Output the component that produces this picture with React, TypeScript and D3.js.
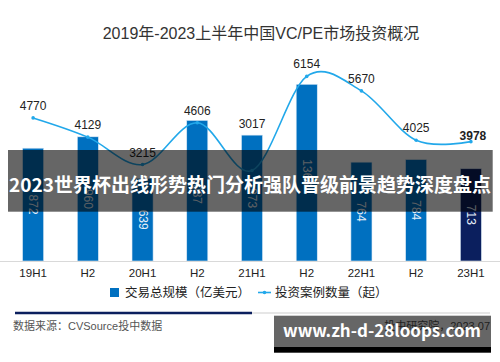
import React from "react";
import * as d3 from "d3";

const categories = ["19H1", "H2", "20H1", "H2", "21H1", "H2", "22H1", "H2", "23H1"];
const dealValue = [872, 960, 639, 1087, 973, 1366, 764, 784, 713];
const dealCount = [4770, 4129, 3215, 4606, 3017, 6154, 5670, 4025, 3978];
const title = "2019年-2023上半年中国VC/PE市场投资概况";
const legendBar = "交易总规模（亿美元）";
const legendLine = "投资案例数量（起）";
const sourceText = "数据来源：CVSource投中数据";
const rightNote = "投中研究院，2023.07";
const bannerText = "2023世界杯出线形势热门分析强队晋级前景趋势深度盘点";
const watermark = "www.zh-d-28loops.com";

const W = 500;
const H = 362;
const FONT = "'Liberation Sans', Arial, 'Noto Sans CJK SC', sans-serif";

export default function App() {
  const x = d3.scaleBand<string>().domain(categories.map((_, i) => String(i))).range([5.6, 498.4]).paddingInner(0.615).paddingOuter(0.31);
  const base = 261;
  const top = 54;
  const yBar = d3.scaleLinear().domain([0, 1600]).range([base, top]);
  const yLine = d3.scaleLinear().domain([0, 6900]).range([base, top]);
  const cx = (i: number) => (x(String(i)) as number) + x.bandwidth() / 2;
  const line = d3
    .line<number>()
    .x((_, i) => cx(i))
    .y((d) => yLine(d))
    .curve(d3.curveCardinal.tension(0));

  const labelY = (v: number, i: number) => {
    const last = i === dealCount.length - 1;
    let y = yLine(v) - (last ? 2 : 8);
    const barTop = yBar(dealValue[i]);
    if (y > barTop) y = barTop - 7;
    return y;
  };

  return (
    <svg width={W} height={H} style={{ position: "absolute", left: 0, top: 0, background: "#fff" }} fontFamily={FONT}>
      <rect width={W} height={H} fill="#fff" />
      <text x={261} y={39} textAnchor="middle" fontSize={16} fill="#333">{title}</text>

      {dealValue.map((v, i) => (
        <rect key={"b" + i} x={x(String(i))} y={yBar(v)} width={x.bandwidth()} height={base - yBar(v)}
          fill={i === dealValue.length - 1 ? "#0b1f5e" : "#0070c0"} stroke="#dbe9f6" strokeWidth={0.6} />
      ))}
      {dealValue.map((v, i) => (
        <text key={"bl" + i} transform={`translate(${cx(i)},${(yBar(v) + base) / 2}) rotate(90)`}
          textAnchor="middle" dominantBaseline="central" fontSize={12} fill="#e4eef8">{v}</text>
      ))}

      <line x1={0} x2={W} y1={base + 0.5} y2={base + 0.5} stroke="#d9d9d9" strokeWidth={1} />

      <path d={line(dealCount) || ""} fill="none" stroke="#22a8ea" strokeWidth={1.6} />
      {dealCount.map((v, i) => (
        <circle key={"p" + i} cx={cx(i)} cy={yLine(v)} r={1.8} fill="#22a8ea" />
      ))}
      {dealCount.map((v, i) => (
        <text key={"pl" + i} x={cx(i) + (i === dealCount.length - 1 ? 2 : 0)} y={labelY(v, i)} textAnchor="middle"
          fontSize={12} fill="#222" fontWeight={i === dealCount.length - 1 ? 700 : 400}>{v}</text>
      ))}

      {categories.map((c, i) => (
        <text key={"x" + i} x={cx(i)} y={277} textAnchor="middle" fontSize={11.5} fill="#222">{c}</text>
      ))}

      <rect x={110} y={288} width={9} height={9} fill="#0070c0" />
      <text x={125} y={297} fontSize={12.5} fill="#222">{legendBar}</text>
      <line x1={258} x2={271} y1={292.5} y2={292.5} stroke="#22a8ea" strokeWidth={1.6} />
      <circle cx={264.5} cy={292.5} r={1.8} fill="#22a8ea" />
      <text x={275} y={297} fontSize={12.5} fill="#222">{legendLine}</text>

      <line x1={252} x2={490} y1={313} y2={313} stroke="#e6e6e6" strokeWidth={2} />
      <line x1={15} x2={252} y1={313} y2={313} stroke="#0b1f5e" strokeWidth={2.5} />
      <text x={13} y={330} fontSize={11} fill="#555">{sourceText}</text>
      <text x={490} y={330} textAnchor="end" fontSize={11} fill="#555">{rightNote}</text>

      <rect x={8} y={150} width={484.7} height={61.7} fill="rgba(0,0,0,0.6)" />
      <text x={250} y={192} textAnchor="middle" fontSize={19} fontWeight={700} fill="#fff"
        fontFamily="'Noto Sans CJK SC', 'Noto Sans', sans-serif">{bannerText}</text>

      <rect x={274} y={315.7} width={217} height={31} fill="rgba(0,0,0,0.6)" />
      <rect x={274} y={346.7} width={217} height={6} fill="#000" />
      <text x={382} y={337} textAnchor="middle" fontSize={17} fontWeight={700} fill="#fff"
        fontFamily="'Noto Sans CJK SC', 'Noto Sans', sans-serif">{watermark}</text>
    </svg>
  );
}
